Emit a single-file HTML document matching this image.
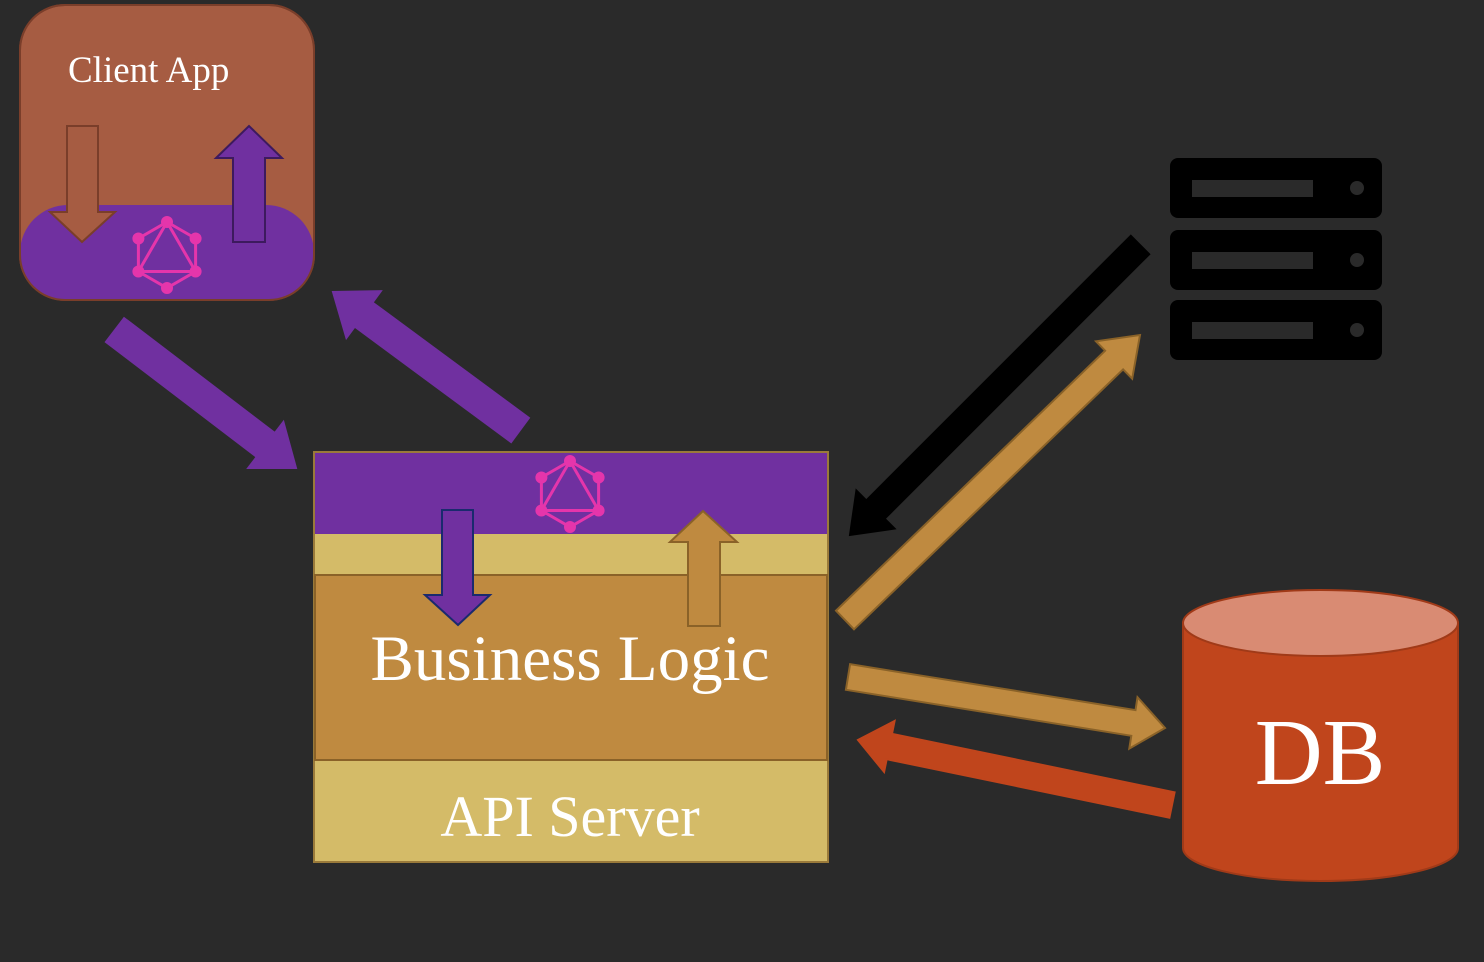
<!DOCTYPE html>
<html><head><meta charset="utf-8"><style>
html,body{margin:0;padding:0;background:#2a2a2a;}
svg{display:block;}
text{font-family:"Liberation Serif",serif;fill:#fff;}
</style></head><body>
<svg id="s" width="1484" height="962" viewBox="0 0 1484 962" xmlns="http://www.w3.org/2000/svg">
<rect width="1484" height="962" fill="#2a2a2a"/>
<defs>
<clipPath id="cc"><rect x="20" y="5" width="294" height="295" rx="45"/></clipPath>
<g id="gql" fill="none" stroke="#e535ab" stroke-width="3">
<polygon points="0,-33 28.6,-16.5 28.6,16.5 0,33 -28.6,16.5 -28.6,-16.5"/>
<polygon points="0,-33 28.6,16.5 -28.6,16.5"/>
<g fill="#e535ab" stroke="none">
<circle cx="0" cy="-33" r="6"/><circle cx="28.6" cy="-16.5" r="6"/><circle cx="28.6" cy="16.5" r="6"/>
<circle cx="0" cy="33" r="6"/><circle cx="-28.6" cy="16.5" r="6"/><circle cx="-28.6" cy="-16.5" r="6"/>
</g></g>
</defs>
<rect x="20" y="5" width="294" height="295" rx="45" fill="#a65c42" stroke="#7a3e2a" stroke-width="2"/>
<g clip-path="url(#cc)"><rect x="20" y="205" width="294" height="140" rx="48" fill="#7030a0"/></g>
<rect x="20" y="5" width="294" height="295" rx="45" fill="none" stroke="#7a3e2a" stroke-width="2"/>
<text x="68" y="82" font-size="37">Client App</text>
<polygon points="67,126 98,126 98,212 115,212 82,242 50,212 67,212" fill="#a65c42" stroke="#7a3e2a" stroke-width="2"/>
<polygon points="233,242 265,242 265,158 282,158 249,126 216,158 233,158" fill="#7030a0" stroke="#3d1a5e" stroke-width="2"/>
<use href="#gql" x="167" y="255"/>
<rect x="314" y="452" width="514" height="410" fill="#d4bb68" stroke="#9a7a3a" stroke-width="2"/>
<rect x="315" y="453" width="512" height="81" fill="#7030a0"/>
<rect x="315" y="575" width="512" height="185" fill="#bf8a40" stroke="#8a6228" stroke-width="2"/>
<use href="#gql" x="570" y="494"/>
<polygon points="442,510 473,510 473,595 490,595 458,625 425,595 442,595" fill="#7030a0" stroke="#1a2a6e" stroke-width="2"/>
<polygon points="688,626 720,626 720,542 737,542 703,511 670,542 688,542" fill="#bf8a40" stroke="#8a6228" stroke-width="2"/>
<text x="570" y="680" font-size="65" text-anchor="middle">Business Logic</text>
<text x="570" y="836" font-size="58" text-anchor="middle">API Server</text>
<g fill="#000">
<rect x="1170" y="158" width="212" height="60" rx="8"/>
<rect x="1170" y="230" width="212" height="60" rx="8"/>
<rect x="1170" y="300" width="212" height="60" rx="8"/>
</g>
<g fill="#2a2a2a">
<rect x="1192" y="180" width="121" height="17"/><circle cx="1357" cy="188" r="7"/>
<rect x="1192" y="252" width="121" height="17"/><circle cx="1357" cy="260" r="7"/>
<rect x="1192" y="322" width="121" height="17"/><circle cx="1357" cy="330" r="7"/>
</g>
<path d="M1183,623 L1183,848 A137.5,33 0 0 0 1458,848 L1458,623 Z" fill="#c0451c" stroke="#a03a18" stroke-width="2"/>
<ellipse cx="1320.5" cy="623" rx="137.5" ry="33" fill="#d98b73" stroke="#a03a18" stroke-width="2"/>
<text x="1320" y="784" font-size="94" text-anchor="middle">DB</text>
<g id="arrows"></g>
</svg>
<script>
function arrow(x1,y1,x2,y2,w,hw,hl,fill,stroke){
 var dx=x2-x1,dy=y2-y1,L=Math.hypot(dx,dy),ux=dx/L,uy=dy/L,px=-uy,py=ux;
 var bx=x2-ux*hl,by=y2-uy*hl;
 var p=[[x1+px*w/2,y1+py*w/2],[bx+px*w/2,by+py*w/2],[bx+px*hw/2,by+py*hw/2],[x2,y2],
 [bx-px*hw/2,by-py*hw/2],[bx-px*w/2,by-py*w/2],[x1-px*w/2,y1-py*w/2]];
 var e=document.createElementNS("http://www.w3.org/2000/svg","polygon");
 e.setAttribute("points",p.map(function(q){return q[0].toFixed(1)+","+q[1].toFixed(1)}).join(" "));
 e.setAttribute("fill",fill);e.setAttribute("stroke",stroke);e.setAttribute("stroke-width","2");
 document.getElementById("arrows").appendChild(e);
}
arrow(115,330,296,468,30,58,38,"#7030a0","#7030a0");
arrow(520,430,333,292,30,58,38,"#7030a0","#7030a0");
arrow(1140,245,850,535,26,54,36,"#000","#000");
arrow(845,620,1140,335,26,52,36,"#bf8a40","#8a6228");
arrow(848,677,1165,728,26,52,32,"#bf8a40","#8a6228");
arrow(1172,805,858,740,26,52,32,"#c0451c","#c0451c");
</script>
</body></html>
